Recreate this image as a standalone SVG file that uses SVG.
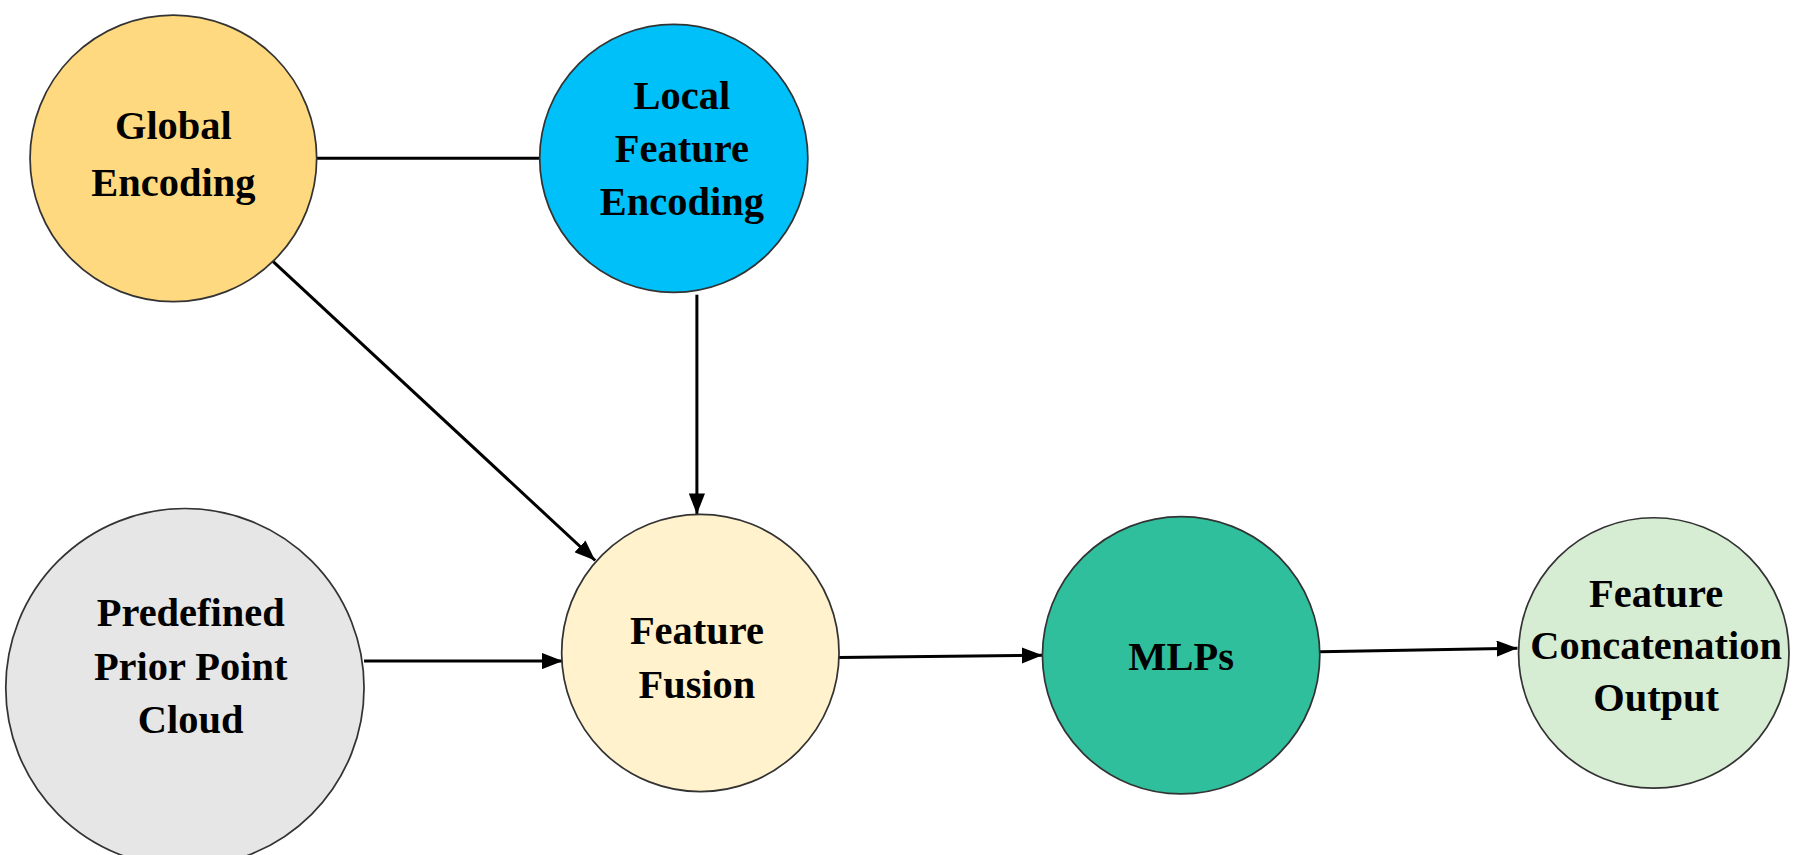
<svg xmlns="http://www.w3.org/2000/svg" width="1811" height="855" viewBox="0 0 1811 855">
<style>
circle{stroke:#333;stroke-width:1.5}
text{font-family:"Liberation Serif",serif;font-weight:bold;font-size:35px;fill:#000;text-anchor:middle}
.c line{stroke:#000;stroke-width:2.6}
</style>
<defs>
<marker id="b" markerWidth="18" markerHeight="14" refX="18" refY="7" orient="auto" markerUnits="userSpaceOnUse"><path d="M0,0L18,7L0,14z" fill="#000"/></marker></defs>
<rect width="1811" height="855" fill="#fff"/>
<g transform="scale(1.1557)">
<g class="c">
<line x1="273" y1="137" x2="470" y2="137"/>
<line x1="235" y1="225" x2="515" y2="485" marker-end="url(#b)"/>
<line x1="603" y1="255" x2="603" y2="445" marker-end="url(#b)"/>
<line x1="315" y1="572" x2="487" y2="572" marker-end="url(#b)"/>
<line x1="725" y1="569" x2="902" y2="567" marker-end="url(#b)"/>
<line x1="1142" y1="564" x2="1313" y2="561" marker-end="url(#b)"/>
</g>
<g id="global"><circle cx="150" cy="137" r="124" fill="#FFD97F"/><text x="150" y="120">Global</text><text x="150" y="170">Encoding</text></g>
<g id="local"><circle cx="583" cy="137" r="116" fill="#00C0FA"/><text x="590" y="94">Local</text><text x="590" y="140">Feature</text><text x="590" y="186">Encoding</text></g>
<g id="prior"><circle cx="160" cy="595" r="155" fill="#E6E6E6"/><text x="165" y="542">Predefined</text><text x="165" y="588">Prior  Point</text><text x="165" y="634">Cloud</text></g>
<g id="fusion"><circle cx="606" cy="565" r="120" fill="#FFF2CC"/><text x="603" y="557">Feature</text><text x="603" y="604">Fusion</text></g>
<g id="mlps"><circle cx="1022" cy="567" r="120" fill="#2FBF9C"/><text x="1022" y="580">MLPs</text></g>
<g id="output"><circle cx="1431" cy="565" r="117" fill="#D6EDD4"/><text x="1433" y="525">Feature</text><text x="1433" y="570">Concatenation</text><text x="1433" y="615">Output</text></g>
</g>
</svg>
